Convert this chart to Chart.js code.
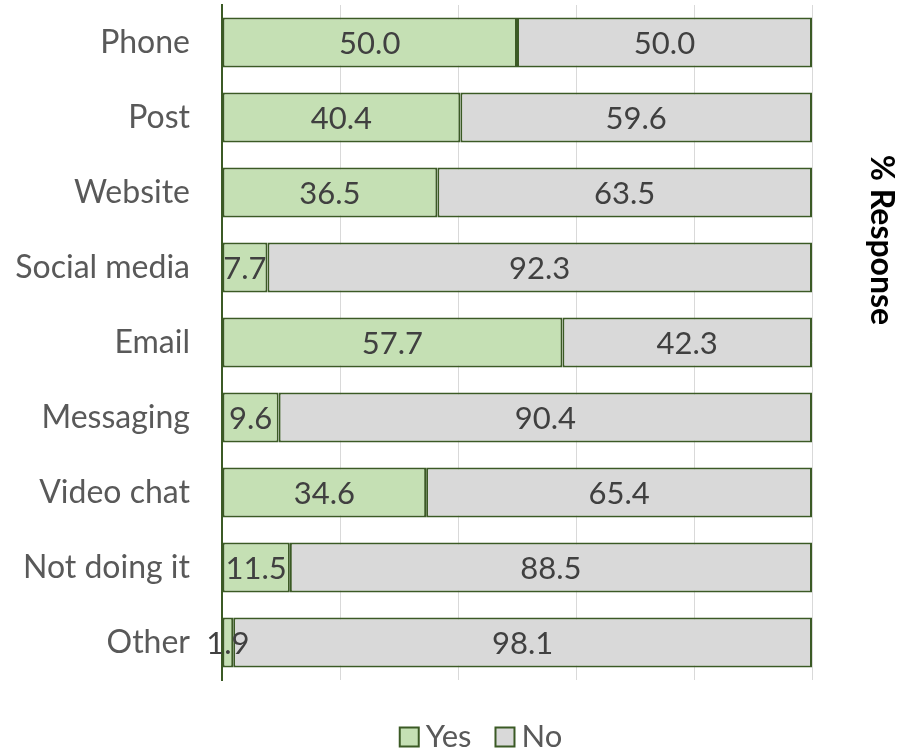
<!DOCTYPE html>
<html>
<head>
<meta charset="utf-8">
<script src="https://cdn.jsdelivr.net/npm/chart.js@4"></script>
<style>
html,body{margin:0;padding:0;background:#fff;}
#wrap{width:900px;height:754px;position:relative;}
</style>
</head>
<body>
<div id="wrap"><canvas id="c" width="900" height="754"></canvas></div>
<script>
const categories = ["Phone","Post","Website","Social media","Email","Messaging","Video chat","Not doing it","Other"];
const yesValues = [50.0,40.4,36.5,7.7,57.7,9.6,34.6,11.5,1.9];
const noValues = [50.0,59.6,63.5,92.3,42.3,90.4,65.4,88.5,98.1];
const seriesNames = ["Yes","No"];
const axisTitle = "% Response";

const FONT = "Lato, 'Open Sans', sans-serif";
const border = '#3b5a25';

const dataLabels = {
  id:'dataLabels',
  afterDatasetsDraw(chart){
    const ctx = chart.ctx;
    ctx.save();
    ctx.font = "31px " + FONT;
    ctx.fillStyle = "#404040";
    ctx.textAlign = "center";
    ctx.textBaseline = "middle";
    chart.data.datasets.forEach((ds,i)=>{
      const meta = chart.getDatasetMeta(i);
      meta.data.forEach((el,j)=>{
        const cx = (el.x + el.base)/2;
        ctx.fillText(ds.data[j].toFixed(1), cx, el.y+1);
      });
    });
    ctx.restore();
  }
};

const sideTitle = {
  id:'sideTitle',
  afterDraw(chart){
    const ctx = chart.ctx;
    ctx.save();
    ctx.translate(881, 240);
    ctx.rotate(Math.PI/2);
    ctx.font = "bold 32px " + FONT;
    ctx.fillStyle = "#000";
    ctx.textAlign = "center";
    ctx.textBaseline = "middle";
    ctx.fillText(axisTitle, 0, 0);
    ctx.restore();
  }
};

const bottomLegend = {
  id:'bottomLegend',
  afterDraw(chart){
    const ctx = chart.ctx;
    ctx.save();
    ctx.font = "31px " + FONT;
    ctx.textBaseline = "middle";
    ctx.textAlign = "left";
    const box = 19, gapText = 7, gapItem = 24, cy = 737;
    const items = chart.data.datasets.map(ds=>({label:ds.label, fill:ds.backgroundColor, w:ctx.measureText(ds.label).width}));
    let total = 0;
    items.forEach((it,i)=>{ total += box + gapText + it.w + (i<items.length-1?gapItem:0); });
    let x = 481 - total/2;
    items.forEach(it=>{
      ctx.fillStyle = it.fill;
      ctx.fillRect(x, cy-box/2, box, box);
      ctx.strokeStyle = border;
      ctx.lineWidth = 2;
      ctx.strokeRect(x, cy-box/2, box, box);
      ctx.fillStyle = '#595959';
      ctx.fillText(it.label, x + box + gapText, cy);
      x += box + gapText + it.w + gapItem;
    });
    ctx.restore();
  }
};

new Chart(document.getElementById('c'), {
  type:'bar',
  data:{
    labels: categories,
    datasets:[
      {label:seriesNames[0], data:yesValues, backgroundColor:'#C5E0B4', borderColor:border, borderWidth:2, borderSkipped:false, barPercentage:0.667, categoryPercentage:1.0},
      {label:seriesNames[1], data:noValues, backgroundColor:'#D9D9D9', borderColor:border, borderWidth:2, borderSkipped:false, barPercentage:0.667, categoryPercentage:1.0}
    ]
  },
  options:{
    indexAxis:'y',
    responsive:false,
    animation:false,
    layout:{autoPadding:false, padding:{left:0,right:88,top:5,bottom:0}},
    scales:{
      x:{
        stacked:true, min:0, max:100,
        ticks:{display:false, stepSize:20},
        grid:{color:'#D9D9D9', lineWidth:1, drawTicks:false},
        border:{display:false},
        afterFit(s){ s.height = 74; s.paddingLeft = 0; s.paddingRight = 0; }
      },
      y:{
        stacked:true,
        ticks:{color:'#595959', font:{size:32, family:FONT}, padding:32},
        grid:{display:false, drawTicks:false},
        border:{display:true, color:border, width:2},
        afterFit(s){ s.width = 222; s.paddingTop = 0; s.paddingBottom = 0; }
      }
    },
    plugins:{
      legend:{display:false},
      tooltip:{enabled:false}
    }
  },
  plugins:[dataLabels, sideTitle, bottomLegend]
});
</script>
</body>
</html>
